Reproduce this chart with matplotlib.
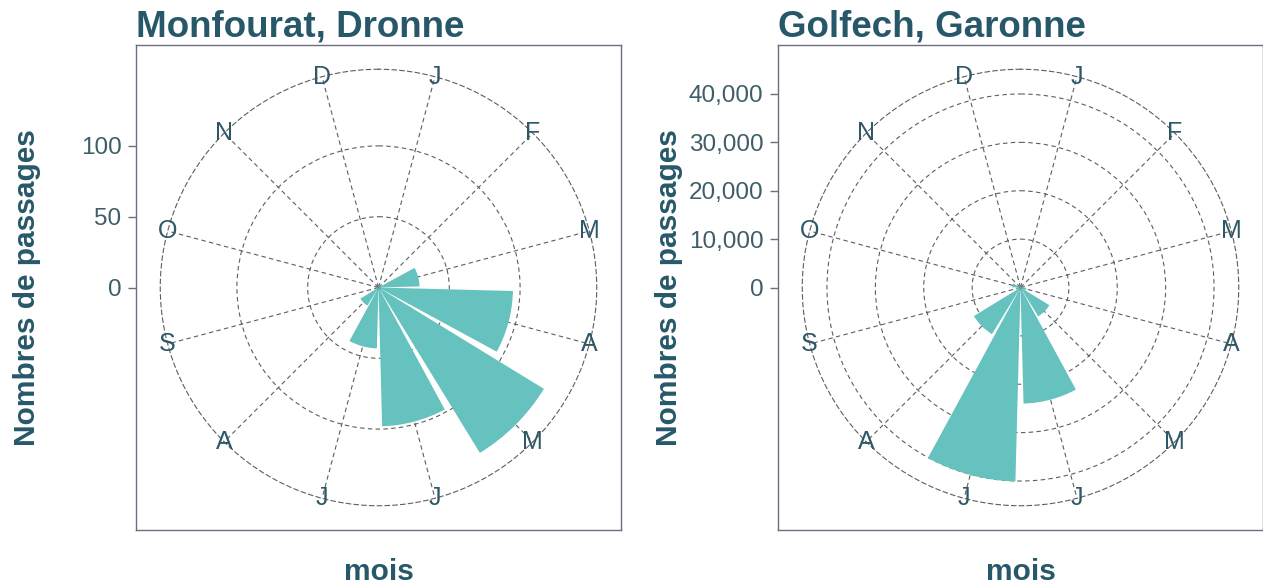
import numpy as np
import matplotlib
matplotlib.use("Agg")
import matplotlib.pyplot as plt

# ---- data ----
month_labels = ["J", "F", "M", "A", "M", "J", "J", "A", "S", "O", "N", "D"]
monfourat_values = [1, 2, 29, 95, 137, 98, 43, 15, 2, 0, 0, 1]
golfech_values = [300, 200, 500, 1200, 7000, 24000, 40100, 11300, 900, 1700, 300, 200]
monfourat_ticks = [0, 50, 100]
golfech_ticks = [0, 10000, 20000, 30000, 40000]
titles = ["Monfourat, Dronne", "Golfech, Garonne"]
y_label = "Nombres de passages"
x_label = "mois"

plt.rcParams["font.family"] = ["Liberation Sans", "DejaVu Sans"]

BAR = "#66c2be"
TITLE_C = "#275869"
TICK_C = "#3f5d69"
FRAME_C = "#6e6e82"
GRID_C = "#5e5e5e"
DASH = (0, (4, 3))

W, H = 1263, 587
fig = plt.figure(figsize=(W / 100, H / 100), dpi=100)


def panel(x0, values, ticks, title, fmt):
    size = 485
    top = 45
    rect = [x0 / W, (H - top - size) / H, size / W, size / H]
    rmax = max(values)
    lim = rmax * 1.25
    ax = fig.add_axes(rect)
    ax.set_xlim(-lim, lim)
    ax.set_ylim(-lim, lim)
    ax.set_xticks([])
    ax.set_yticks(ticks)
    ax.set_yticklabels([fmt(t) for t in ticks])
    ax.tick_params(axis="y", length=5.5, width=1, color=FRAME_C, labelsize=17.5,
                   labelcolor=TICK_C, pad=5)
    for s in ax.spines.values():
        s.set_color(FRAME_C)
        s.set_linewidth(1)
    ax.set_title(title, loc="left", fontsize=26.5, fontweight="bold",
                 color=TITLE_C, pad=5)
    ax.set_ylabel(y_label, fontsize=21.5, fontweight="bold", color=TITLE_C)
    ax.yaxis.set_label_coords(-0.195, 0.5)
    ax.set_xlabel(x_label, fontsize=21.5, fontweight="bold", color=TITLE_C)
    ax.xaxis.set_label_coords(0.5, -0.058)

    # polar overlay: outer circle (0.45 of panel) = 1.125 * rmax
    psize = size * 0.9
    prect = [(x0 + (size - psize) / 2) / W,
             (H - top - size + (size - psize) / 2) / H,
             psize / W, psize / H]
    pax = fig.add_axes(prect, projection="polar")
    pax.patch.set_alpha(0)
    pax.set_theta_zero_location("N")
    pax.set_theta_direction(-1)
    rout = rmax * 1.125
    pax.set_ylim(0, rout)
    angles = 15 + 30 * np.arange(12)
    pax.set_thetagrids(angles, labels=[""] * 12)
    rg = [t for t in ticks if 0 < t < rout]
    pax.set_rgrids(rg, labels=[""] * len(rg))
    pax.grid(True, color=GRID_C, lw=0.8, linestyle=DASH)
    pax.spines["polar"].set_color(GRID_C)
    pax.spines["polar"].set_linewidth(0.8)
    pax.spines["polar"].set_linestyle(DASH)
    pax.set_axisbelow(True)
    theta = np.deg2rad(angles)
    pax.bar(theta, values, width=np.deg2rad(27), color=BAR, edgecolor="none",
            zorder=3)
    for th, lab in zip(theta, month_labels):
        pax.text(th, rout, lab, ha="center", va="center", fontsize=18,
                 color="#2f5866", zorder=4)


panel(136, monfourat_values, monfourat_ticks, titles[0], lambda t: f"{t:d}")
panel(778, golfech_values, golfech_ticks, titles[1], lambda t: f"{t:,d}")

fig.savefig("out.png", dpi=100)
